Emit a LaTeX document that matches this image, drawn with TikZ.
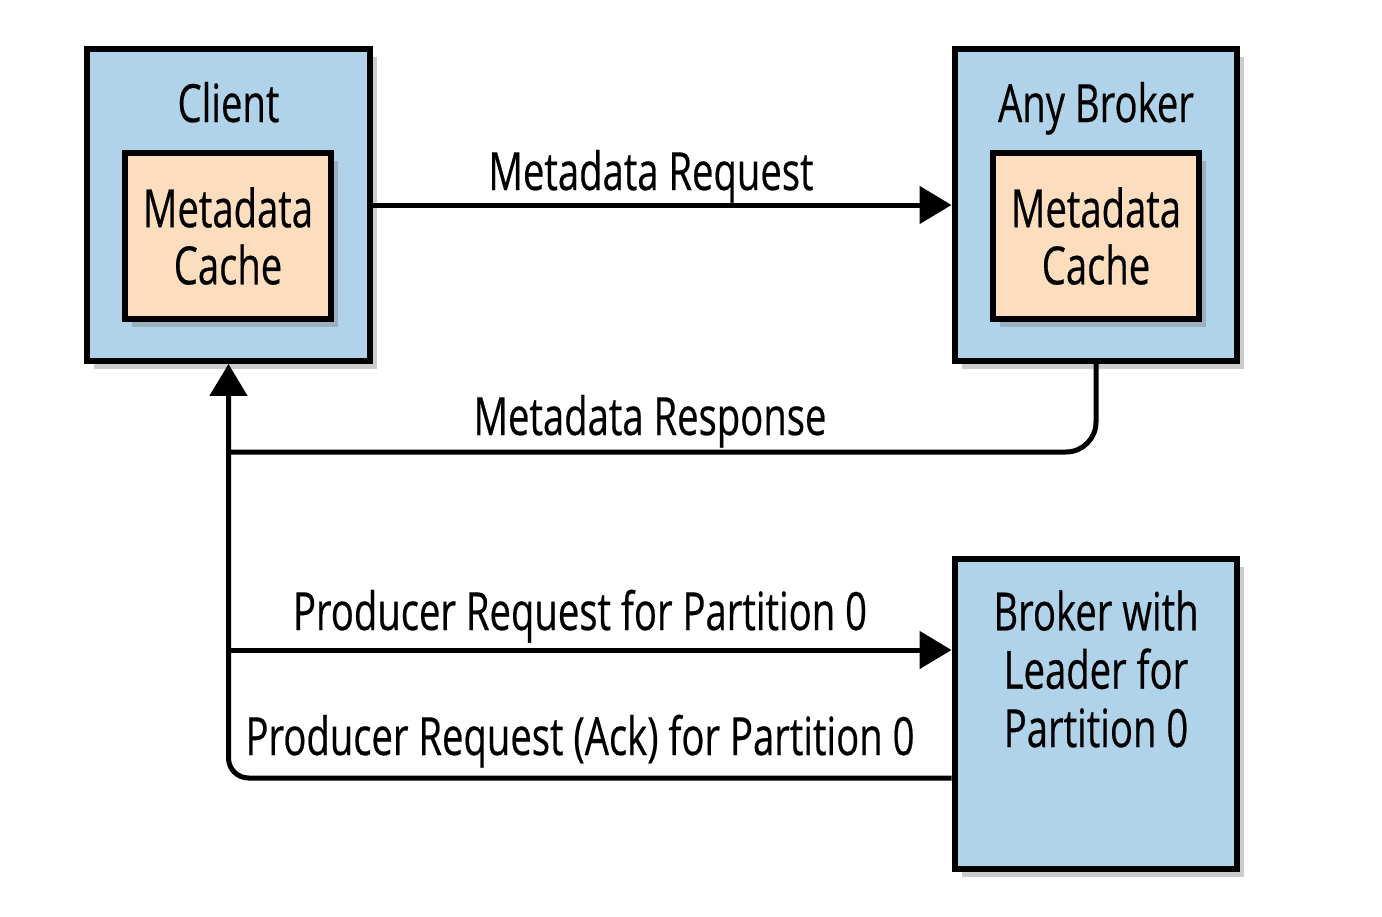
\documentclass[tikz,border=0pt]{standalone}
\usepackage{fontspec}
\setmainfont{Open Sans}[FakeStretch=0.725,FakeBold=0.4]
\usepackage{tikz}
\usetikzlibrary{shapes}
\usetikzlibrary{arrows.meta}
\usetikzlibrary{shadows}
\usetikzlibrary{positioning}
\definecolor{boxblue}{RGB}{176,211,233}
\definecolor{cachepeach}{RGB}{252,222,190}

\begin{document}
\begin{tikzpicture}[x=0.02cm, y=-0.02cm, thin, every node/.style={font=\fontsize{30}{32.5}\selectfont},
  box/.style={rectangle,draw,line width=0.12cm,fill=boxblue,minimum width=5.66cm,minimum height=6.24cm,
    drop shadow={shadow xshift=0.14cm,shadow yshift=-0.16cm,opacity=0.4}},
  cache/.style={rectangle,draw,line width=0.12cm,fill=cachepeach,minimum width=4.12cm,minimum height=3.32cm,align=center,
    drop shadow={shadow xshift=0.14cm,shadow yshift=-0.16cm,opacity=0.4}},
  title/.style={anchor=base,align=center,inner sep=0pt},
  msg/.style={line width=0.1cm,-{Triangle[length=0.64cm,width=0.74cm]}},
  wire/.style={line width=0.1cm}]
	  \useasboundingbox (0,0) rectangle (1382,916);
	  \node[box] (client) at (228.5,205) {};
	  \node[box] (anybroker) at (1096,205) {};
	  \node[box,minimum height=6.2cm] (leader) at (1096,714) {};
	  \node[cache] (clientcache) at (228,236) {Metadata\\Cache};
	  \node[cache] (brokercache) at (1096,236) {Metadata\\Cache};
	  \node[title] (clienttitle) at (228.5,122) {Client};
	  \node[title] (brokertitle) at (1096,122) {Any Broker};
	  % base of a multi-line node is its last line
	  \node[title,font=\fontsize{30}{33.2}\selectfont] (leadertitle) at (1096,747) {Broker with\\Leader for\\Partition 0};
	  \coordinate (fork) at (228.5,650);
	  \coordinate (join) at (228.5,452);

	  % metadata round trip
	  \draw[msg] (client) -- (anybroker);
	  \draw[wire,rounded corners=0.6cm] (anybroker.south) |- (join);
	  % produce and ack
	  \draw[msg] (fork) -- (fork -| leader.west);
	  \draw[msg,rounded corners=0.4cm] (leader.west |- 0,778) -| (client.south);

	  \node[title] (reqlabel) at (651,190) {Metadata Request};
	  \node[title] (resplabel) at (650,435) {Metadata Response};
	  \node[title] (prodlabel) at (580,630) {Producer Request for Partition 0};
	  \node[title] (acklabel) at (580,755) {Producer Request (Ack) for Partition 0};
\end{tikzpicture}
\end{document}
